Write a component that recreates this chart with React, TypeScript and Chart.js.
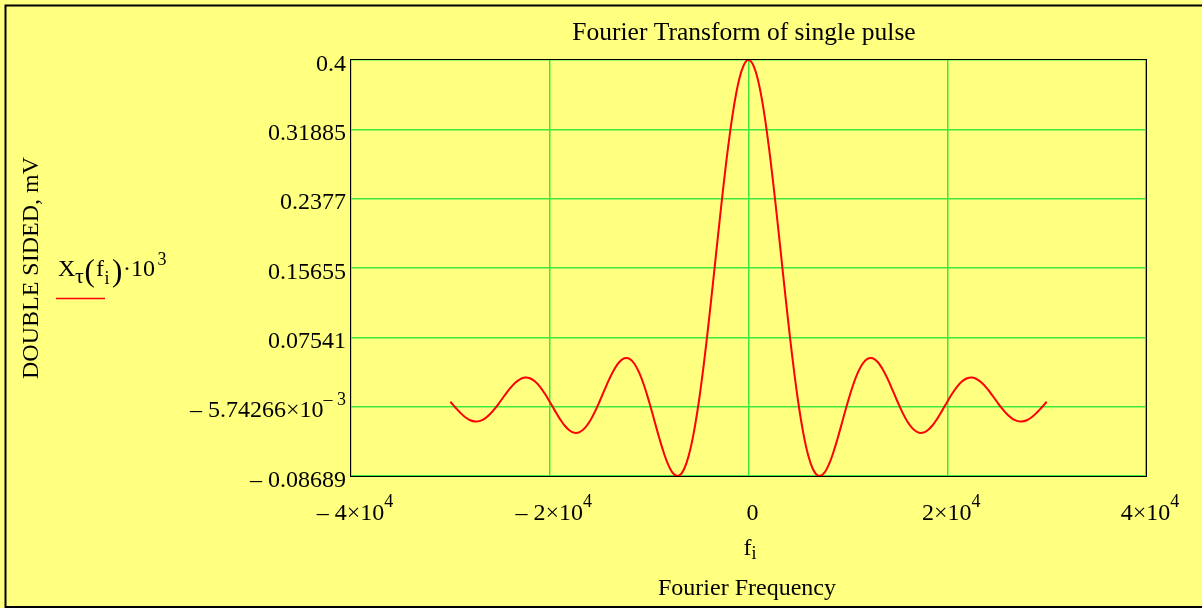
import React, { useEffect, useRef } from "react";
import { Chart, registerables } from "chart.js";

Chart.register(...registerables);

// ---------- data ----------
const frequencies = [
  -30000, -29500, -29000, -28500, -28000, -27500, -27000, -26500, -26000, -25500,
  -25000, -24500, -24000, -23500, -23000, -22500, -22000, -21500, -21000, -20500,
  -20000, -19500, -19000, -18500, -18000, -17500, -17000, -16500, -16000, -15500,
  -15000, -14500, -14000, -13500, -13000, -12500, -12000, -11500, -11000, -10500,
  -10000, -9500, -9000, -8500, -8000, -7500, -7000, -6500, -6000, -5500,
  -5000, -4500, -4000, -3500, -3000, -2500, -2000, -1500, -1000, -500,
  0,
  500, 1000, 1500, 2000, 2500, 3000, 3500, 4000, 4500, 5000,
  5500, 6000, 6500, 7000, 7500, 8000, 8500, 9000, 9500, 10000,
  10500, 11000, 11500, 12000, 12500, 13000, 13500, 14000, 14500, 15000,
  15500, 16000, 16500, 17000, 17500, 18000, 18500, 19000, 19500, 20000,
  20500, 21000, 21500, 22000, 22500, 23000, 23500, 24000, 24500, 25000,
  25500, 26000, 26500, 27000, 27500, 28000, 28500, 29000, 29500, 30000,
];

const amplitudeMV = [
  0, -0.00667, -0.0129, -0.01807, -0.02162, -0.02315, -0.02242, -0.01944, -0.01439, -0.00771,
  0, 0.00803, 0.01559, 0.02192, 0.02632, 0.02829, 0.02752, 0.02396, 0.01782, 0.0096,
  0, -0.01009, -0.01969, -0.02784, -0.03364, -0.03638, -0.03562, -0.03121, -0.02339, -0.01269,
  0, 0.01357, 0.02673, 0.03815, 0.04657, 0.05093, 0.05046, 0.04479, 0.03402, 0.01874,
  0, -0.02071, -0.04158, -0.06059, -0.07568, -0.08488, -0.08649, -0.07924, -0.06237, -0.03577,
  0, 0.04372, 0.09355, 0.14715, 0.20182, 0.25465, 0.30273, 0.34336, 0.3742, 0.39345,
  0.4,
  0.39345, 0.3742, 0.34336, 0.30273, 0.25465, 0.20182, 0.14715, 0.09355, 0.04372, 0,
  -0.03577, -0.06237, -0.07924, -0.08649, -0.08488, -0.07568, -0.06059, -0.04158, -0.02071, 0,
  0.01874, 0.03402, 0.04479, 0.05046, 0.05093, 0.04657, 0.03815, 0.02673, 0.01357, 0,
  -0.01269, -0.02339, -0.03121, -0.03562, -0.03638, -0.03364, -0.02784, -0.01969, -0.01009, 0,
  0.0096, 0.01782, 0.02396, 0.02752, 0.02829, 0.02632, 0.02192, 0.01559, 0.00803, 0,
  -0.00771, -0.01439, -0.01944, -0.02242, -0.02315, -0.02162, -0.01807, -0.0129, -0.00667, 0,
];

const xTickValues = [-40000, -20000, 0, 20000, 40000];
const xTickMantissa = ["\u2013 4\u00d710", "\u2013 2\u00d710", "0", "2\u00d710", "4\u00d710"];
const xTickExponent = ["4", "4", "", "4", "4"];

const yTickValues = [0.4, 0.31885, 0.2377, 0.15655, 0.07541, -0.00574266, -0.08689];
const yTickMantissa = ["0.4", "0.31885", "0.2377", "0.15655", "0.07541", "\u2013 5.74266\u00d710", "\u2013 0.08689"];
const yTickExponent = ["", "", "", "", "", "\u2013 3", ""];

const titleText = "Fourier Transform of single pulse";
const yAxisTitle = "DOUBLE SIDED, mV";
const xAxisTitle = "Fourier Frequency";

// ---------- styles ----------
const FONT = '"Liberation Serif", "Times New Roman", serif';
const BG = "#ffff80";
const GRID = "#3ee83e";
const CURVE = "#ff0000";
const TEXT = "#000000";

type Part = { t: string; size: number; dy: number };

function drawParts(
  ctx: CanvasRenderingContext2D,
  parts: Part[],
  x: number,
  y: number,
  align: "left" | "center" | "right"
) {
  const widths = parts.map((p) => {
    ctx.font = `${p.size}px ${FONT}`;
    return ctx.measureText(p.t).width;
  });
  const total = widths.reduce((a, b) => a + b, 0);
  let cx = align === "left" ? x : align === "center" ? x - total / 2 : x - total;
  ctx.textAlign = "left";
  ctx.textBaseline = "alphabetic";
  parts.forEach((p, i) => {
    ctx.font = `${p.size}px ${FONT}`;
    ctx.fillText(p.t, cx, y + p.dy);
    cx += widths[i];
  });
}

function drawAt(ctx: CanvasRenderingContext2D, t: string, size: number, x: number, y: number) {
  ctx.font = `${size}px ${FONT}`;
  ctx.textAlign = "left";
  ctx.textBaseline = "alphabetic";
  ctx.fillText(t, x, y);
}

const decorPlugin = {
  id: "mathcadDecor",
  beforeDraw(chart: any) {
    const ctx = chart.ctx as CanvasRenderingContext2D;
    ctx.save();
    ctx.fillStyle = BG;
    ctx.fillRect(0, 0, chart.width, chart.height);
    ctx.restore();
  },
  afterDraw(chart: any) {
    const ctx = chart.ctx as CanvasRenderingContext2D;
    const area = chart.chartArea;
    const xs = chart.scales.x;
    const ys = chart.scales.y;
    ctx.save();

    // plot frame
    ctx.strokeStyle = "#000";
    ctx.lineWidth = 1;
    ctx.strokeRect(
      Math.round(area.left) - 0.5,
      Math.round(area.top) - 0.5,
      Math.round(area.right - area.left) + 1,
      Math.round(area.bottom - area.top) + 1
    );

    // outer border (left, top, bottom)
    ctx.lineWidth = 2;
    ctx.beginPath();
    ctx.moveTo(chart.width + 2, 5.5);
    ctx.lineTo(5.5, 5.5);
    ctx.lineTo(5.5, 607);
    ctx.lineTo(chart.width + 2, 607);
    ctx.stroke();

    ctx.fillStyle = TEXT;

    // title
    drawParts(ctx, [{ t: titleText, size: 25.5, dy: 0 }], 744, 40, "center");

    // x tick labels
    xTickValues.forEach((v, i) => {
      const px = xs.getPixelForValue(v) + 4;
      const parts: Part[] = [{ t: xTickMantissa[i], size: 24, dy: 0 }];
      if (xTickExponent[i]) parts.push({ t: xTickExponent[i], size: 18, dy: -13 });
      drawParts(ctx, parts, px, 520, "center");
    });

    // y tick labels
    yTickValues.forEach((v, i) => {
      const py = ys.getPixelForValue(v) + 10.5;
      const parts: Part[] = [{ t: yTickMantissa[i], size: 24, dy: 0 }];
      if (yTickExponent[i]) parts.push({ t: yTickExponent[i], size: 18, dy: -12 });
      drawParts(ctx, parts, area.left - 5, py, "right");
    });

    // x axis variable label f_i
    drawParts(
      ctx,
      [
        { t: "f", size: 24, dy: 0 },
        { t: "i", size: 18, dy: 4 },
      ],
      750,
      555,
      "center"
    );

    // x axis title
    drawParts(ctx, [{ t: xAxisTitle, size: 24, dy: 0 }], 747, 595, "center");

    // y axis title (rotated)
    ctx.save();
    ctx.translate(37.5, (area.top + area.bottom) / 2);
    ctx.rotate(-Math.PI / 2);
    ctx.font = `24px ${FONT}`;
    ctx.textAlign = "center";
    ctx.textBaseline = "alphabetic";
    ctx.fillText(yAxisTitle, 0, 0);
    ctx.restore();

    // legend expression X_tau(f_i)·10^3
    drawAt(ctx, "X", 24, 58, 276);
    drawAt(ctx, "\u03c4", 22, 75, 283);
    drawAt(ctx, "(", 31, 84.5, 281);
    drawAt(ctx, "f", 24, 96, 276);
    drawAt(ctx, "i", 18, 104.5, 284);
    drawAt(ctx, ")", 31, 112, 281);
    drawAt(ctx, "\u00b7", 24, 123, 276);
    drawAt(ctx, "10", 24, 131, 276);
    drawAt(ctx, "3", 18, 157.5, 265);

    ctx.strokeStyle = CURVE;
    ctx.lineWidth = 1.5;
    ctx.beginPath();
    ctx.moveTo(56, 298.5);
    ctx.lineTo(105, 298.5);
    ctx.stroke();

    ctx.restore();
  },
};

export default function App() {
  const canvasRef = useRef<HTMLCanvasElement | null>(null);

  useEffect(() => {
    const canvas = canvasRef.current;
    if (!canvas) return;
    const chart = new Chart(canvas, {
      type: "line",
      data: {
        datasets: [
          {
            data: frequencies.map((f, i) => ({ x: f, y: amplitudeMV[i] })),
            borderColor: CURVE,
            borderWidth: 2,
            pointRadius: 0,
            tension: 0.4,
            fill: false,
          },
        ],
      },
      options: {
        animation: false,
        responsive: false,
        devicePixelRatio: 1,
        layout: { padding: { left: 351, top: 60, right: 56, bottom: 132 } },
        plugins: {
          legend: { display: false },
          tooltip: { enabled: false },
          title: { display: false },
        },
        scales: {
          x: {
            type: "linear",
            min: -40000,
            max: 40000,
            afterBuildTicks: (s: any) => {
              s.ticks = xTickValues.map((v) => ({ value: v }));
            },
            afterFit: (s: any) => {
              s.height = 0;
            },
            ticks: { display: false },
            grid: { color: GRID, lineWidth: 1.5, drawTicks: false },
            border: { display: false },
          },
          y: {
            type: "linear",
            min: -0.08689,
            max: 0.4,
            afterBuildTicks: (s: any) => {
              s.ticks = yTickValues.map((v) => ({ value: v }));
            },
            afterFit: (s: any) => {
              s.width = 0;
            },
            ticks: { display: false },
            grid: { color: GRID, lineWidth: 1.5, drawTicks: false },
            border: { display: false },
          },
        },
      },
      plugins: [decorPlugin],
    } as any);
    return () => chart.destroy();
  }, []);

  return (
    <div style={{ position: "absolute", left: 0, top: 0, width: 1202, height: 608 }}>
      <canvas ref={canvasRef} width={1202} height={608} style={{ display: "block" }} />
    </div>
  );
}
